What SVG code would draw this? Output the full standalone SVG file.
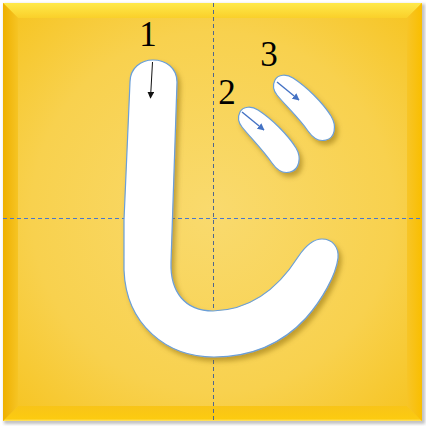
<svg xmlns="http://www.w3.org/2000/svg" width="426" height="426" viewBox="0 0 426 426">
<defs>
<radialGradient id="face" cx="0.5" cy="0.5" r="0.72">
<stop offset="0" stop-color="#F9DA6E"/>
<stop offset="0.6" stop-color="#F8D14E"/>
<stop offset="1" stop-color="#F6C21A"/>
</radialGradient>
<linearGradient id="topB" x1="0" y1="0" x2="0" y2="1">
<stop offset="0" stop-color="#FFE94A"/>
<stop offset="1" stop-color="#FAD02A"/>
</linearGradient>
<linearGradient id="botB" x1="0" y1="0" x2="0" y2="1">
<stop offset="0" stop-color="#F8C418"/>
<stop offset="0.85" stop-color="#FCCB10"/>
<stop offset="1" stop-color="#FFE468"/>
</linearGradient>
<linearGradient id="leftB" x1="0" y1="0" x2="1" y2="0">
<stop offset="0" stop-color="#EEB000"/>
<stop offset="1" stop-color="#F6C424"/>
</linearGradient>
<linearGradient id="rightB" x1="0" y1="0" x2="1" y2="0">
<stop offset="0" stop-color="#F7C528"/>
<stop offset="1" stop-color="#F9BE00"/>
</linearGradient>
<filter id="shadow" x="-20%" y="-20%" width="140%" height="140%">
<feDropShadow dx="3" dy="4" stdDeviation="2.5" flood-color="#7A5A00" flood-opacity="0.45"/>
</filter>
<filter id="frameShadow" x="-5%" y="-5%" width="110%" height="110%">
<feGaussianBlur stdDeviation="1.5"/>
</filter>
<marker id="blueHead" viewBox="0 0 10 10" refX="9" refY="5" markerWidth="5" markerHeight="5" orient="auto" markerUnits="strokeWidth">
<path d="M0,0 L10,5 L0,10 Z" fill="#4472C4"/>
</marker>
<marker id="blackHead" viewBox="0 0 10 10" refX="9" refY="5" markerWidth="7" markerHeight="7" orient="auto" markerUnits="strokeWidth">
<path d="M0,0 L10,5 L0,10 Z" fill="#111"/>
</marker>
</defs>
<style>
.stroke{fill:#FFFFFF;stroke:#6A9FD8;stroke-width:1.2;filter:url(#shadow)}
.num{font-family:"Liberation Serif","Times New Roman",serif;font-size:35px;fill:#000;text-anchor:middle}
.guide{stroke-width:1;fill:none;stroke-dasharray:4 3}
</style>
<g id="background">
<rect x="4" y="4" width="421" height="420" fill="#9A9A9A" opacity="0.6" filter="url(#frameShadow)"/>
<rect x="3" y="3" width="419" height="418" fill="url(#face)"/>
<polygon points="3,3 422,3 407,18 18,18" fill="url(#topB)"/>
<polygon points="3,421 422,421 407,406 18,406" fill="url(#botB)"/>
<polygon points="3,3 18,18 18,406 3,421" fill="url(#leftB)"/>
<polygon points="422,3 407,18 407,406 422,421" fill="url(#rightB)"/>
</g>
<g id="guides">
<line class="guide" x1="213.5" y1="3" x2="213.5" y2="420" stroke="#4F6690"/>
<line class="guide" x1="3" y1="218.5" x2="422" y2="218.5" stroke="#4A78CC"/>
</g>
<g id="stroke1">
<path class="stroke" d="M130,82 C130,68 141,60 153,60 C166,60 177,68 177,82 L171,262 C170,292 185,311 213,311 C250,310 277,290 298,257 C306,245 313,239 322,239 C333,239 339,248 338,258 C336,275 322,300 306,318 C282,344 250,357 214,357 C167,357 126,325 124,270 L124,220 Z"/>
</g>
<g id="stroke2">
<path class="stroke" d="M240,112 C243,106 252,106 258,110 C272,119 288,135 296,148 C302,158 299,170 290,172 C283,174 277,170 272,163 C263,150 250,137 242,127 C238,122 238,116 240,112 Z"/>
</g>
<g id="stroke3">
<path class="stroke" transform="translate(35,-32)" d="M240,112 C243,106 252,106 258,110 C272,119 288,135 296,148 C302,158 300,170 291,172 C284,174 278,170 273,163 C264,150 250,137 242,127 C238,122 238,116 240,112 Z"/>
</g>
<g id="connectors">
<line x1="152.5" y1="62" x2="150.5" y2="98" stroke="#111" stroke-width="1" marker-end="url(#blackHead)"/>
<line x1="242" y1="112" x2="264" y2="130" stroke="#4472C4" stroke-width="1.4" marker-end="url(#blueHead)"/>
<line x1="277" y1="82" x2="299" y2="100" stroke="#4472C4" stroke-width="1.4" marker-end="url(#blueHead)"/>
</g>
<g id="labels">
<text class="num" x="148" y="46">1</text>
<text class="num" x="227" y="104">2</text>
<text class="num" x="269" y="66">3</text>
</g>
</svg>
